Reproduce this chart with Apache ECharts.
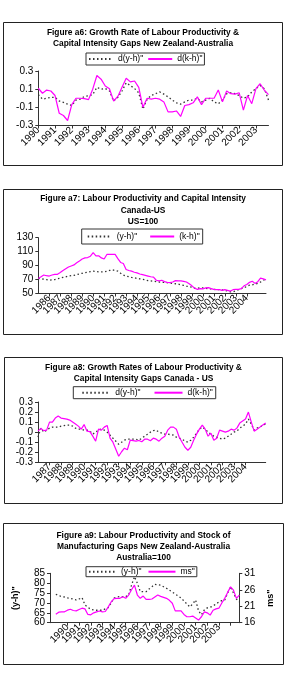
<!DOCTYPE html>
<html>
<head>
<meta charset="utf-8">
<title>Figures a6 - a9</title>
<script src="https://cdn.jsdelivr.net/npm/echarts@6/dist/echarts.min.js"></script>
<style>
    body { margin: 0; background: #fff; width: 286px; height: 692px; position: relative; overflow: hidden; }
    .fig { position: absolute; }
</style>
</head>
<body>
<div class="fig" id="a6" style="left:3px;top:22px;width:280px;height:144px;"></div>
<div class="fig" id="a7" style="left:3px;top:189px;width:280px;height:146px;"></div>
<div class="fig" id="a8" style="left:4px;top:357px;width:279px;height:147px;"></div>
<div class="fig" id="a9" style="left:3px;top:523px;width:281px;height:142px;"></div>

<script type="text/javascript">
// quarterly categories, label shows the year at Q1
function makeQuarters(startYear, n) {
    var out = [];
    for (var i = 0; i < n; i++) {
        out.push((startYear + Math.floor(i / 4)) + ' Q' + (i % 4 + 1));
    }
    return out;
}

// Figure a6: NZ-Australia growth rates, 1990Q1-2003Q4
var a6Quarters = makeQuarters(1990, 56);
var a6Dyh = [0.04,-0.01,0.0,0.01,0.01,-0.03,-0.045,-0.065,-0.08,-0.02,
    -0.01,0.02,0.027,0.04,0.12,0.1,0.107,0.08,-0.03,0.01,
    0.08,0.17,0.14,0.107,0.06,-0.12,-0.01,0.03,0.05,0.07,
    0.045,0.015,-0.02,-0.05,-0.065,-0.04,-0.02,-0.02,0.0,-0.04,
    -0.02,0.0,-0.04,-0.06,-0.02,0.05,0.06,0.05,0.03,0.0,
    0.015,0.07,0.105,0.14,0.105,-0.02];
var a6Dkh = [0.11,0.055,0.09,0.08,0.03,-0.165,-0.19,-0.245,-0.07,0.0,
    0.0,-0.005,-0.015,0.1,0.25,0.21,0.135,0.105,-0.03,0.02,
    0.12,0.22,0.18,0.19,0.12,-0.1,0.0,-0.01,0.0,-0.01,
    -0.04,-0.15,-0.15,-0.14,-0.2,-0.08,-0.07,-0.05,0.015,-0.07,
    0.0,0.0,0.0,0.09,-0.04,0.08,0.05,0.045,0.06,-0.13,
    0.03,-0.06,0.105,0.16,0.09,0.04];

// Figure a7: Canada-US levels (US=100), 1985Q1-2005Q4
var a7Quarters = makeQuarters(1985, 84);
var a7Yh = [71.6,71,70.5,70,69,69.5,70,71,72,73,
    74,75,75.5,76,77,78,79,80,80.5,81.5,
    82,81.5,81,81,81,82,83,84,83,82,
    79,76.5,75,74,73,72.5,71.5,71,70.5,69.5,
    68.5,68,67.5,67,66.5,66,66,65.5,65,64.5,
    64,63.5,62.5,61.5,60.5,60,59,57.5,57.5,58,
    58,57.5,57,56.5,56,55.5,55.5,55,54.5,53.5,
    52.5,52.5,54,55.5,57,58.5,60,62,62.5,63.5,
    64.5,66.5,69,70.5];
var a7Kh = [71.6,74,76.5,75.5,75,76.5,77.5,77.5,80,83,
    85.5,88,89.5,91,94,96.5,99.5,101,101.5,103.5,
    108.5,104,104,101,99.5,106,106,106,106,100,
    94.5,93,84.5,83,82,80.5,79.5,78,77,76,
    75,74,73.5,69,68,69,67,66,65.5,66.5,
    68.5,68,68,67.5,66.5,64,61,57.5,56,57,
    56.5,58,58.5,57,56,55.5,55.5,54.5,55.5,54.5,
    53.5,55.5,56,56,57,61,63,66,67.5,64.5,
    67,72,71,69.5];

// Figure a8: Canada-US growth rates, 1986Q1-2005Q4
var a8Quarters = makeQuarters(1986, 80);
var a8Dyh = [-0.05,0.04,0.0,0.02,0.04,0.05,0.05,0.05,0.06,0.065,
    0.07,0.07,0.06,0.04,0.03,0.03,0.02,0.02,0.01,-0.02,
    0.0,0.02,0.03,0.02,0.0,-0.03,-0.06,-0.09,-0.12,-0.1,
    -0.08,-0.07,-0.07,-0.07,-0.07,-0.08,-0.06,-0.04,-0.02,0.0,
    0.015,0.02,0.0,-0.01,-0.02,-0.02,-0.025,-0.03,-0.05,-0.06,
    -0.07,-0.09,-0.1,-0.08,-0.05,-0.01,0.03,0.05,0.03,0.0,
    -0.02,-0.04,-0.05,-0.06,-0.07,-0.06,-0.04,-0.02,0.0,0.01,
    0.04,0.06,0.08,0.13,0.08,0.02,0.04,0.05,0.07,0.08];
var a8Dkh = [0.01,0.037,0.015,0.02,0.1,0.1,0.14,0.16,0.14,0.135,
    0.13,0.12,0.1,0.08,0.06,0.03,0.075,0.01,0.005,-0.04,
    -0.09,0.03,0.02,0.05,0.067,-0.06,-0.1,-0.17,-0.24,-0.195,
    -0.16,-0.175,-0.08,-0.085,-0.09,-0.083,-0.095,-0.07,-0.07,-0.085,
    -0.06,-0.07,-0.09,-0.06,-0.04,0.02,0.05,0.05,0.03,-0.05,
    -0.1,-0.15,-0.18,-0.15,-0.08,-0.02,0.03,0.07,0.03,-0.04,
    -0.01,-0.08,-0.06,0.02,0.01,0.0,0.01,0.03,0.02,0.04,
    0.09,0.11,0.13,0.2,0.1,0.01,0.03,0.05,0.07,0.09];

// Figure a9: NZ-Australia levels (Australia=100), 1989Q1-2004Q4
// axis starts two empty quarters early; year labels only up to 2003
var a9Lead = ['1988 Q3', '1988 Q4'];
var a9Quarters = makeQuarters(1989, 64);
var a9LastLabel = 2003;
var a9Yh = [74.4,73.8,73.2,73.0,72.6,72.3,71.9,71.5,72.0,72.7,
    69.0,67.8,66.8,66.5,66.3,66.3,66.3,67.0,67.6,70.0,
    72.5,73.0,73.2,73.2,73.2,74,79,83.3,80,75.7,
    75.7,75.7,77,78.2,79.4,79.2,79,78.2,77.4,76.5,
    75.5,74.5,73.5,72.5,71,69.5,68,69.5,71.5,66,
    64,66.5,67.5,67.8,68.5,69.5,70.5,71.2,71.5,75,
    78.2,75,72,70.6];
var a9Ms = [18.55,19.2,19.3,19.3,19.8,20.1,19.7,19.6,20.0,20.4,
    20.2,18.5,18.4,19.0,19.3,19.55,19.3,19.4,20.8,22.3,
    23.3,23.4,23.4,23.9,23.4,24.4,26.0,27.4,24.4,23.4,
    24.1,23.1,23.1,23.2,23.8,24.4,24.0,23.7,23.4,22.8,
    21.9,19.6,19.6,19.6,18.5,17.8,17.8,18.0,17.4,16.8,
    17.8,19.3,19.0,18.3,19.8,20.2,20.4,22.0,23.4,25.2,
    26.9,25.9,23.4,24.4];

var FONT = '"Liberation Sans", Arial, sans-serif';
var PINK = '#ff00ff';
var DOT = '#333333';
var AXIS = '#333333';

function frame(w, h) {
    return [{
        type: 'rect', silent: true,
        shape: { x: 0.5, y: 0.5, width: w - 1, height: h - 1 },
        style: { fill: 'none', stroke: '#222', lineWidth: 1 }
    }];
}

function titleOpt(text, top, lh) {
    return {
        text: text, left: 'center', top: top, padding: 0,
        textStyle: { fontFamily: FONT, fontSize: 8.4, fontWeight: 'bold', color: '#000', lineHeight: lh }
    };
}

function legendOpt(names, left, top, pad, itemW, gap, lh) {
    return {
        data: names, left: left, top: top, padding: pad,
        itemWidth: itemW, itemHeight: 8, itemGap: gap,
        borderColor: '#333', borderWidth: 1, borderRadius: 0,
        // hide the marker dot, keep only the line sample
        itemStyle: { color: 'rgba(0,0,0,0)', borderWidth: 0, opacity: 0 },
        textStyle: { fontFamily: FONT, fontSize: 8.5, color: '#000', lineHeight: lh }
    };
}

function isQ1(idx, v) {
    return v.slice(-2) === 'Q1';
}

function catAxis(cats, fmt, every) {
    return {
        type: 'category', data: cats, boundaryGap: false,
        axisLine: { onZero: false, lineStyle: { color: AXIS, width: 1 } },
        axisTick: { interval: every || 3, length: 3, lineStyle: { color: AXIS } },
        axisLabel: {
            interval: every || 3, rotate: 45, margin: 3, fontFamily: FONT, fontSize: 10, color: '#000',
            formatter: fmt || function (v) { return v.slice(0, 4); }
        }
    };
}

function valAxis(min, max, step, fmt) {
    return {
        type: 'value', min: min, max: max, interval: step,
        splitLine: { show: false },
        axisLine: { show: true, lineStyle: { color: AXIS, width: 1 } },
        axisTick: { show: true, length: 3, lineStyle: { color: AXIS } },
        axisLabel: { margin: 5, fontFamily: FONT, fontSize: 10, color: '#000', formatter: fmt }
    };
}

function oneDecimal(v) {
    return Math.abs(v) < 1e-9 ? '0' : v.toFixed(1);
}

function dotted(name, data, axisIdx) {
    return {
        name: name, type: 'line', data: data, symbol: 'none', silent: true,
        yAxisIndex: axisIdx || 0,
        lineStyle: { color: DOT, width: 1.3, type: [1.5, 2.5] },
        itemStyle: { color: DOT }
    };
}

function solid(name, data, axisIdx) {
    return {
        name: name, type: 'line', data: data, symbol: 'none', silent: true,
        yAxisIndex: axisIdx || 0,
        lineStyle: { color: PINK, width: 1.2 },
        itemStyle: { color: PINK }
    };
}

function pairs(cats, vals) {
    return vals.map(function (v, i) { return [cats[i], v]; });
}

function draw(id, option) {
    var dom = document.getElementById(id);
    var chart = echarts.init(dom, null, { renderer: 'canvas' });
    option.animation = false;
    option.textStyle = { fontFamily: FONT };
    chart.setOption(option);
    window.addEventListener('resize', chart.resize);
}

// a6
draw('a6', {
    graphic: frame(280, 144),
    title: titleOpt('Figure a6: Growth Rate of Labour Productivity &\nCapital Intensity Gaps New Zealand-Australia', 4.8, 11),
    legend: legendOpt(['d(y-h)"', 'd(k-h)"'], 83, 31, [1, 2, 1, 2], 24, 4, 10),
    grid: { left: 35.3, right: 14.5, top: 49, bottom: 40.5 },
    xAxis: catAxis(a6Quarters),
    yAxis: valAxis(-0.3, 0.3, 0.2, oneDecimal),
    series: [dotted('d(y-h)"', a6Dyh), solid('d(k-h)"', a6Dkh)]
});

// a7
draw('a7', {
    graphic: frame(280, 146),
    title: titleOpt('Figure a7: Labour Productivity and Capital Intensity\nCanada-US\nUS=100', 4.4, 11.2),
    legend: legendOpt(['(y-h)"', '(k-h)"'], 78.7, 40, [2.5, 3, 2.5, 5], 24, 12, 10),
    grid: { left: 35.3, right: 17, top: 48.7, bottom: 41.5 },
    xAxis: catAxis(a7Quarters),
    yAxis: valAxis(50, 130, 20),
    series: [dotted('(y-h)"', a7Yh), solid('(k-h)"', a7Kh)]
});

// a8
draw('a8', {
    graphic: frame(279, 147),
    title: titleOpt('Figure a8: Growth Rates of Labour Productivity &\nCapital Intensity Gaps Canada - US', 5.1, 11),
    legend: legendOpt(['d(y-h)"', 'd(k-h)"'], 69.3, 29.7, [1, 3, 1, 8], 28, 13, 10),
    grid: { left: 34, right: 17.3, top: 45, bottom: 41.7 },
    xAxis: catAxis(a8Quarters),
    yAxis: valAxis(-0.3, 0.3, 0.1, oneDecimal),
    series: [dotted('d(y-h)"', a8Dyh), solid('d(k-h)"', a8Dkh)]
});

// a9
var a9Left = valAxis(60, 85, 5);
a9Left.name = '(y-h)"';
a9Left.nameLocation = 'middle';
a9Left.nameRotate = 90;
a9Left.nameGap = 30;
a9Left.nameTextStyle = { fontFamily: FONT, fontSize: 9, fontWeight: 'bold', color: '#000' };
var a9Right = valAxis(16, 31, 5);
a9Right.position = 'right';
a9Right.name = 'ms"';
a9Right.nameLocation = 'middle';
a9Right.nameRotate = 90;
a9Right.nameGap = 24;
a9Right.nameTextStyle = { fontFamily: FONT, fontSize: 9, fontWeight: 'bold', color: '#000' };

var a9Cats = a9Lead.concat(a9Quarters);
draw('a9', {
    graphic: frame(281, 142),
    title: titleOpt('Figure a9: Labour Productivity and Stock of\nManufacturing Gaps New Zealand-Australia\nAustralia=100', 6.7, 11.3),
    legend: legendOpt(['(y-h)"', 'ms"'], 83, 43.7, [0, 2, 0, 2], 27, 6, 10),
    grid: { left: 47, right: 44.7, top: 50.3, bottom: 42.3 },
    xAxis: catAxis(a9Cats, function (v) {
        var yr = parseInt(v.slice(0, 4), 10);
        return yr <= a9LastLabel ? String(yr) : '';
    }, isQ1),
    yAxis: [a9Left, a9Right],
    series: [dotted('(y-h)"', pairs(a9Quarters, a9Yh), 0), solid('ms"', pairs(a9Quarters, a9Ms), 1)]
});
</script>
</body>
</html>
